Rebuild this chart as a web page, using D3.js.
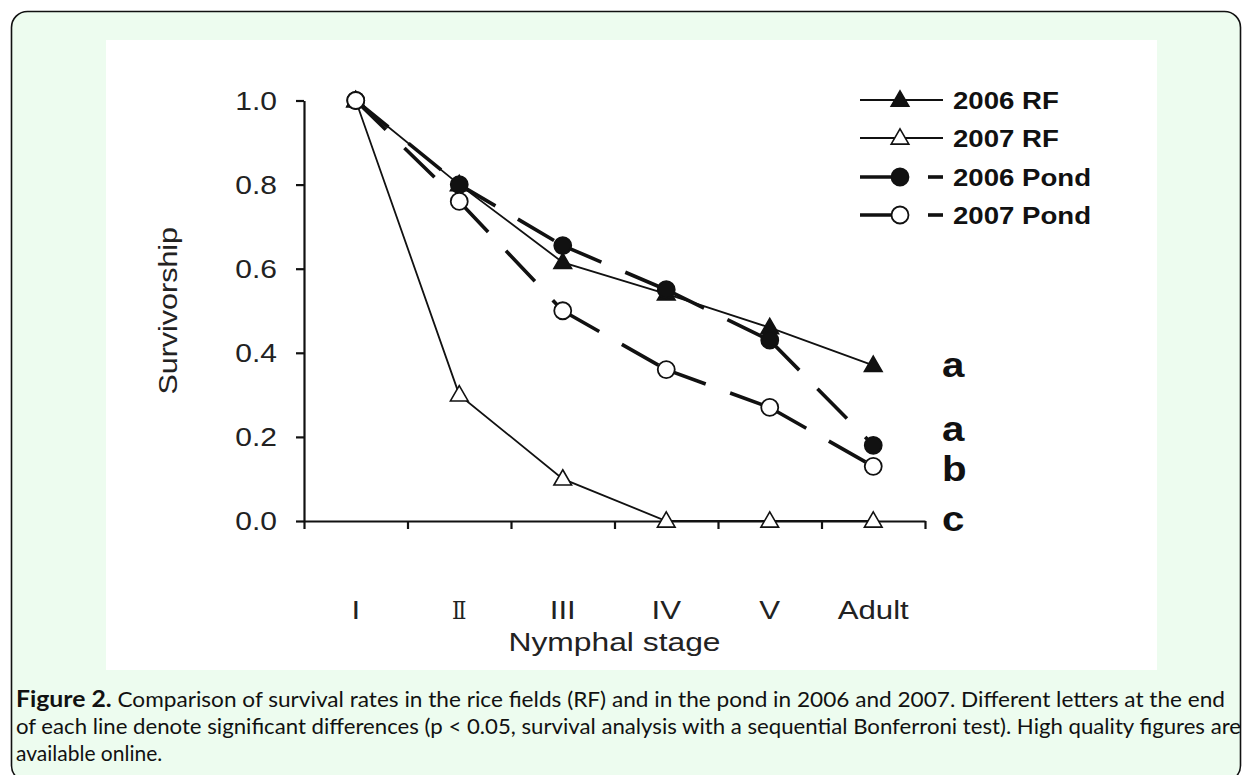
<!DOCTYPE html>
<html>
<head>
<meta charset="utf-8">
<script src="https://cdn.jsdelivr.net/npm/d3@7"></script>
<style>
  html, body { margin: 0; padding: 0; background: #ffffff; }
  svg { display: block; }
</style>
</head>
<body>
<svg id="chart" width="1243" height="775"></svg>
<script>
// ---------------- data ----------------
const stages = ["I", "Ⅱ", "III", "IV", "V", "Adult"];
const rf2006 = [1.0, 0.80, 0.615, 0.54, 0.46, 0.37];
const rf2007 = [1.0, 0.30, 0.10, 0.0, 0.0, 0.0];
const pond2006 = [1.0, 0.80, 0.655, 0.55, 0.43, 0.18];
const pond2007 = [1.0, 0.76, 0.50, 0.36, 0.27, 0.13];
const yTicks = [0.0, 0.2, 0.4, 0.6, 0.8, 1.0];
const seriesNames = ["2006 RF", "2007 RF", "2006 Pond", "2007 Pond"];
const sigLetters = ["a", "a", "b", "c"];
const sigLetterAt = [0.37, 0.22, 0.125, 0.005];
const captionBold = "Figure 2.";
const captionLines = [
  " Comparison of survival rates in the rice fields (RF) and in the pond in 2006 and 2007. Different letters at the end",
  "of each line denote significant differences (p < 0.05, survival analysis with a sequential Bonferroni test). High quality figures are",
  "available online."
];

// ---------------- layout ----------------
const svg = d3.select("#chart");
const SX = 1.2; // horizontal stretch of the original figure text
const plot = { left: 304, right: 925, top: 100.5, bottom: 521 };

// outer frame
svg.append("rect").attr("x", 11.5).attr("y", 11.5).attr("width", 1229).attr("height", 770)
  .attr("rx", 16).attr("ry", 16)
  .attr("fill", "#edfcef").attr("stroke", "#111").attr("stroke-width", 1.6);
// white figure panel
svg.append("rect").attr("x", 106).attr("y", 40).attr("width", 1051).attr("height", 630)
  .attr("fill", "#ffffff");

const x = d3.scaleBand().domain(stages).range([plot.left, plot.right]).padding(0);
const xEdge = d3.scaleLinear().domain([0, stages.length]).range([plot.left, plot.right]);
const y = d3.scaleLinear().domain([0, 1]).range([plot.bottom, plot.top]);
const cx = d => x(d) + x.bandwidth() / 2;

const font = "'Liberation Sans', Arial, sans-serif";

// stretched text helper
function stext(g, tx, ty, str, opts) {
  const t = g.append("text")
    .attr("transform", `translate(${tx},${ty}) scale(${opts.sx || SX},${opts.sy || 1})` + (opts.rot ? ` rotate(${opts.rot})` : ""))
    .attr("font-family", opts.family || font)
    .attr("font-size", opts.size)
    .attr("font-weight", opts.weight || "normal")
    .attr("text-anchor", opts.anchor || "start")
    .attr("fill", opts.fill || "#111")
    .text(str);
  if (opts.baseline) t.attr("dominant-baseline", opts.baseline);
  return t;
}

// ---------------- axes ----------------
const yAxis = svg.append("g").attr("transform", `translate(${plot.left},0)`)
  .call(d3.axisLeft(y).tickValues(yTicks).tickSize(8).tickSizeOuter(0).tickFormat(""));
yAxis.select(".domain").attr("stroke", "#111").attr("stroke-width", 2.2);
yAxis.selectAll(".tick line").attr("stroke", "#111").attr("stroke-width", 2.2);

const xAxis = svg.append("g").attr("transform", `translate(0,${plot.bottom})`)
  .call(d3.axisBottom(xEdge).tickValues(d3.range(stages.length + 1)).tickSize(8).tickSizeOuter(0).tickFormat(""));
xAxis.select(".domain").attr("stroke", "#111").attr("stroke-width", 2.2);
xAxis.selectAll(".tick line").attr("stroke", "#111").attr("stroke-width", 2.2);

const labels = svg.append("g");
yTicks.forEach(v => {
  stext(labels, 277, y(v) + 9, d3.format(".1f")(v), { size: 25, anchor: "end", fill: "#222" });
});
stages.forEach(s => {
  const isRoman2 = s === "Ⅱ";
  stext(labels, cx(s), 619, s, {
    size: isRoman2 ? 25 : 26, anchor: "middle", fill: "#222",
    family: isRoman2 ? "'DejaVu Serif', 'Liberation Serif', serif" : font,
    sx: isRoman2 ? 0.85 : SX, sy: 1
  });
});
stext(labels, (plot.left + plot.right) / 2, 651, "Nymphal stage", { size: 26.5, anchor: "middle", fill: "#222" });
stext(labels, 177, (plot.top + plot.bottom) / 2, "Survivorship", { size: 26.5, anchor: "middle", fill: "#222", sx: 1, sy: 1.15, rot: -90 });

// ---------------- series ----------------
const series = [
  { name: seriesNames[0], values: rf2006, marker: "tri", fill: "#111", dashed: false },
  { name: seriesNames[1], values: rf2007, marker: "tri", fill: "#fff", dashed: false },
  { name: seriesNames[2], values: pond2006, marker: "circ", fill: "#111", dashed: true },
  { name: seriesNames[3], values: pond2007, marker: "circ", fill: "#fff", dashed: true }
];
const triPath = d3.symbol(d3.symbolTriangle, 135)();
const DASH = "42,26";

function drawMarker(g, px, py, s) {
  if (s.marker === "tri") {
    g.append("path").attr("d", triPath)
      .attr("transform", `translate(${px},${py + 1})`)
      .attr("fill", s.fill).attr("stroke", "#111").attr("stroke-width", 1.6);
  } else {
    g.append("circle").attr("cx", px).attr("cy", py).attr("r", 8.5)
      .attr("fill", s.fill).attr("stroke", "#111").attr("stroke-width", 1.8);
  }
}

const dataG = svg.append("g");
series.forEach(s => {
  const pts = stages.map((st, i) => [cx(st), y(s.values[i])]);
  const lg = dataG.append("g");
  if (s.dashed) {
    d3.pairs(pts).forEach(([a, b]) => {
      lg.append("path").attr("d", d3.line()([a, b]))
        .attr("fill", "none").attr("stroke", "#111").attr("stroke-width", 3.6)
        .attr("stroke-dasharray", DASH);
    });
  } else {
    lg.append("path").attr("d", d3.line()(pts))
      .attr("fill", "none").attr("stroke", "#111").attr("stroke-width", 1.8);
  }
  pts.forEach(p => drawMarker(lg, p[0], p[1], s));
});

// significance letters
const letG = svg.append("g");
sigLetters.forEach((l, i) => {
  stext(letG, 942, y(sigLetterAt[i]), l, { size: 35, weight: "bold", baseline: "central", sx: 1.15 });
});

// ---------------- legend ----------------
const legG = svg.append("g");
const legRows = [100, 138, 177, 215];
series.forEach((s, i) => {
  const ly = legRows[i];
  if (s.dashed) {
    legG.append("line").attr("x1", 860).attr("x2", 900).attr("y1", ly).attr("y2", ly)
      .attr("stroke", "#111").attr("stroke-width", 3.6);
    legG.append("line").attr("x1", 928).attr("x2", 943).attr("y1", ly).attr("y2", ly)
      .attr("stroke", "#111").attr("stroke-width", 3.6);
  } else {
    legG.append("line").attr("x1", 860).attr("x2", 943).attr("y1", ly).attr("y2", ly)
      .attr("stroke", "#111").attr("stroke-width", 1.8);
  }
  drawMarker(legG, 900, ly, s);
  stext(legG, 953, ly + 8.5, s.name, { size: 23, weight: "bold" });
});

// ---------------- caption ----------------
const capG = svg.append("g").attr("font-family", "Lato, 'Open Sans', sans-serif").attr("fill", "#111");
const capY = [707, 734, 761];
const capLen = [1209, 1225, null];
captionLines.forEach((line, i) => {
  const t = capG.append("text").attr("x", 16).attr("y", capY[i]).attr("font-size", 21);
  if (i === 0) {
    t.append("tspan").attr("font-weight", "bold").attr("font-size", 23).text(captionBold);
  }
  t.append("tspan").text(line);
  if (capLen[i]) t.attr("textLength", capLen[i]).attr("lengthAdjust", "spacingAndGlyphs");
});
</script>
</body>
</html>
